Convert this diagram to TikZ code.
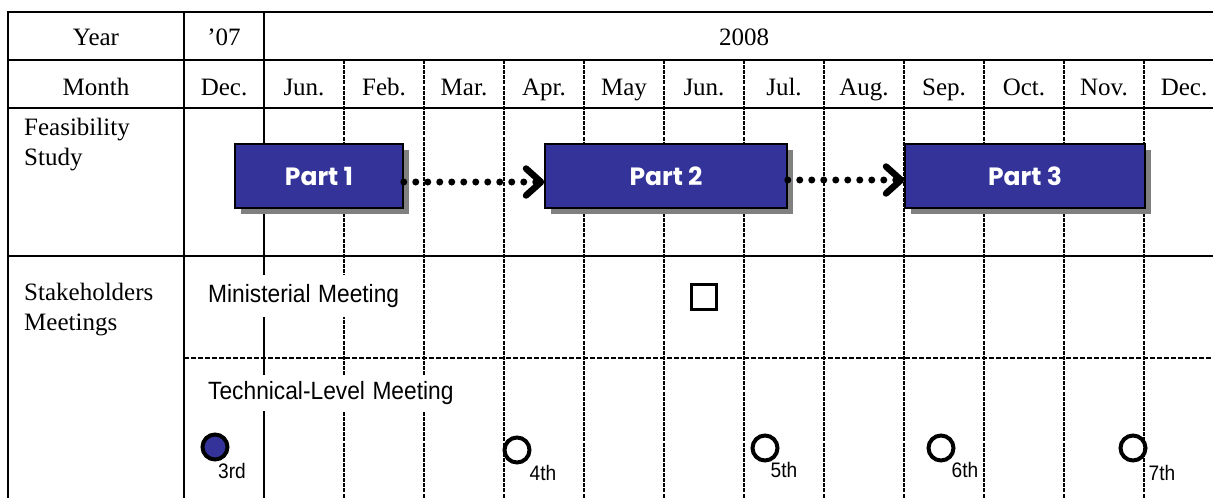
\documentclass[tikz,border=0pt]{standalone}
\usepackage{fontspec}
\usepackage{graphicx}
\setmainfont{Liberation Serif}
\newfontfamily\meetfont{Liberation Sans}
\newfontfamily\partfont{Poppins}
\usetikzlibrary{arrows.meta,shadows}
\definecolor{partblue}{RGB}{51,51,153}
\definecolor{shadowgray}{RGB}{128,128,128}
\newcommand{\narrow}[1]{\scalebox{0.91}[1]{#1}}
\begin{document}
\begin{tikzpicture}[x=1pt,y=-1pt,
  grid/.style={line width=2.5pt, line cap=rect},
  gridd/.style={line width=2.7pt, dash pattern=on 4pt off 1.1pt},
  rowsep/.style={line width=1.8pt, dash pattern=on 5pt off 2pt},
  head/.style={font=\fontsize{25}{30}\selectfont, inner sep=0pt, anchor=base},
  rowlabel/.style={font=\fontsize{25}{30}\selectfont, inner sep=0pt, anchor=north west, align=left},
  meet/.style={font=\meetfont\fontsize{25}{29}\selectfont, fill=white, inner xsep=8pt, inner ysep=0pt, align=left, anchor=west},
  partbox/.style={fill=partblue, draw=black, line width=1.5pt, minimum height=64pt, inner sep=0pt,
    text=white, font=\partfont\bfseries\fontsize{25}{30}\selectfont,
    drop shadow={shadow xshift=6pt, shadow yshift=-6pt, fill=shadowgray, opacity=1, draw=none}},
  link/.style={line width=7pt, line cap=round, dash pattern=on 0pt off 12pt,
    -{Straight Barb[length=15pt, width=27pt, line width=6.5pt, round]}},
  meeting/.style={circle, draw=black, line width=4pt, minimum size=25pt, inner sep=0pt},
  num/.style={font=\meetfont\fontsize{21}{25}\selectfont, inner sep=0pt}]
\useasboundingbox (0,0) rectangle (1213,498);

% table rules
\foreach \y in {12,60,108,256} \draw[grid] (8,\y) -- (1213,\y);
\foreach \x in {8,184,264} \draw[grid] (\x,12) -- (\x,498);
\foreach \x in {344,424,...,1144} \draw[gridd] (\x,60) -- (\x,498);
\draw[rowsep] (184,358) -- (1213,358);

% header
\node[head] (year) at (96,45) {Year};
\node[head] (y07) at (224,45) {'07};
\node[head] (y08) at (744,45) {2008};
\node[head] (month) at (96,95) {Month};
\node[head] (m0) at (224,95) {Dec.};
\foreach \m [count=\i] in {Jun.,Feb.,Mar.,Apr.,May,Jun.,Jul.,Aug.,Sep.,Oct.,Nov.,Dec.}
  \node[head] (m\i) at (224+80*\i,95) {\m};

% row titles
\node[rowlabel] (feas) at (24,118) {Feasibility\\Study};
\node[rowlabel] (stake) at (24,283) {Stakeholders\\Meetings};

% meeting labels
\node[meet, text width=207pt, minimum height=42pt] (minist) at (200,296) {\narrow{Ministerial Meeting}};
\node[meet, text width=250pt, minimum height=36pt] (tech) at (200,393) {\narrow{Technical-Level Meeting}};

% study parts
\node[partbox, minimum width=168pt] (p1) at (319,176) {Part 1};
\node[partbox, minimum width=242pt] (p2) at (666,176) {Part 2};
\node[partbox, minimum width=240pt] (p3) at (1025,176) {Part 3};
\draw[link] ([yshift=-6pt]p1.east) -- ([yshift=-6pt]p2.west);
\draw[link] ([yshift=-4pt]p2.east) -- ([yshift=-4pt]p3.west);

% ministerial meeting
\node[draw=black, line width=3.4pt, minimum size=25pt, inner sep=0pt] (sq) at (704,297) {};

% technical-level meetings
\node[meeting, fill=partblue] (t3) at (215,447) {};
\node[meeting] (t4) at (517,450) {};
\node[meeting] (t5) at (765,448) {};
\node[meeting] (t6) at (941,448) {};
\node[meeting] (t7) at (1133,448) {};
\node[num] (n3) at (232,471) {\narrow{3rd}};
\node[num] (n4) at (543,473) {\narrow{4th}};
\node[num] (n5) at (784,470) {\narrow{5th}};
\node[num] (n6) at (965,470) {\narrow{6th}};
\node[num] (n7) at (1162,473) {\narrow{7th}};
\end{tikzpicture}
\end{document}
